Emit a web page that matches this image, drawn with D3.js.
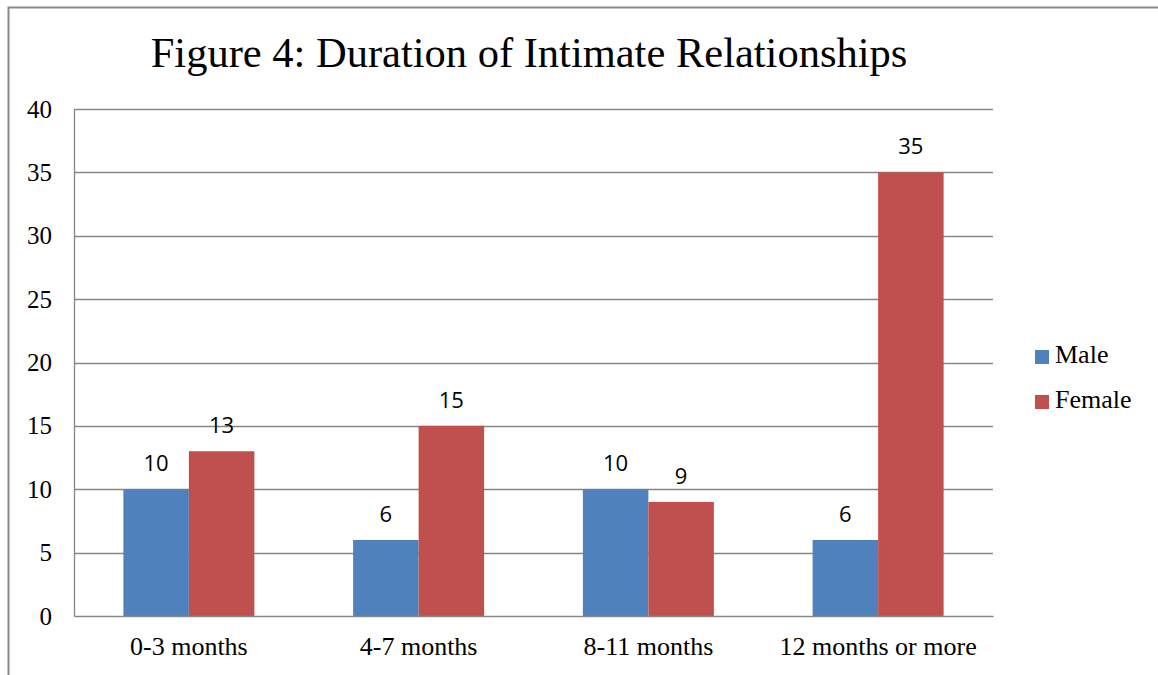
<!DOCTYPE html>
<html>
<head>
<meta charset="utf-8">
<script src="https://cdn.jsdelivr.net/npm/d3@7"></script>
<style>
  body { margin: 0; background: #fff; }
  svg { display: block; }
</style>
</head>
<body>
<div id="bar-chart"></div>
<script>
// Chart data
var categories = ["0-3 months", "4-7 months", "8-11 months", "12 months or more"];
var seriesNames = ["Male", "Female"];
var maleValues = [10, 6, 10, 6];
var femaleValues = [13, 15, 9, 35];
var yTicks = [0, 5, 10, 15, 20, 25, 30, 35, 40];
var colors = ["#4F81BD", "#C0504D"];

var W = 1158, H = 675;
var serif = "'Liberation Serif', 'Times New Roman', serif";
var svg = d3.select("#bar-chart").append("svg")
    .attr("width", W)
    .attr("height", H);

// Outer chart frame (right and bottom edges run off the picture)
svg.append("rect")
    .attr("x", 8.5).attr("y", 7.5)
    .attr("width", W + 20).attr("height", H + 20)
    .attr("fill", "none")
    .attr("stroke", "#888")
    .attr("stroke-width", 2);

// Title
svg.append("text")
    .attr("x", 529).attr("y", 67)
    .attr("text-anchor", "middle")
    .style("font-family", serif)
    .style("font-size", "42.5px")
    .text("Figure 4: Duration of Intimate Relationships");

var margin = {left: 74, right: 165, top: 109, bottom: 59};
var width = W - margin.left - margin.right;
var height = H - margin.top - margin.bottom;

var chart = svg.append("g")
    .attr("transform", "translate(" + margin.left + "," + margin.top + ")");

var x0 = d3.scaleBand()
    .domain(categories)
    .range([0, width])
    .paddingInner(0)
    .paddingOuter(0);

var y = d3.scaleLinear()
    .domain([0, 40])
    .range([height, 0]);

var barW = 65.5;
var x1 = d3.scaleBand()
    .domain(seriesNames)
    .range([x0.bandwidth() / 2 - barW, x0.bandwidth() / 2 + barW]);

// Gridlines
chart.append("g")
    .selectAll("line")
    .data(yTicks.filter(function(d) { return d > 0; }))
    .enter().append("line")
    .attr("x1", 0).attr("x2", width)
    .attr("y1", function(d) { return Math.round(y(d)) + 0.5; })
    .attr("y2", function(d) { return Math.round(y(d)) + 0.5; })
    .attr("stroke", "#868686")
    .attr("stroke-width", 1.3);

var rows = categories.map(function(c, i) {
    return {cat: c, values: [
        {name: "Male", value: maleValues[i]},
        {name: "Female", value: femaleValues[i]}
    ]};
});

var groups = chart.append("g").selectAll("g")
    .data(rows)
    .enter().append("g")
    .attr("transform", function(d) { return "translate(" + x0(d.cat) + ",0)"; });

groups.selectAll("rect")
    .data(function(d) { return d.values; })
    .enter().append("rect")
    .attr("x", function(d) { return x1(d.name); })
    .attr("width", x1.bandwidth())
    .attr("y", function(d) { return y(d.value); })
    .attr("height", function(d) { return height - y(d.value); })
    .attr("fill", function(d, i) { return colors[i]; });

// Value labels
groups.selectAll("text.val")
    .data(function(d) { return d.values; })
    .enter().append("text")
    .classed("val", true)
    .attr("x", function(d) { return x1(d.name) + x1.bandwidth() / 2; })
    .attr("y", function(d) { return y(d.value) - 18; })
    .attr("text-anchor", "middle")
    .style("font-family", "'Open Sans', 'Liberation Sans', sans-serif")
    .style("font-size", "22px")
    .attr("fill", "#000")
    .text(function(d) { return d.value; });

// Y axis
var yAxis = d3.axisLeft(y).tickValues(yTicks).tickSize(0).tickPadding(22);
var yg = chart.append("g").call(yAxis);
yg.select(".domain").attr("stroke", "#868686").attr("stroke-width", 1.3);
yg.selectAll("text")
    .style("font-family", serif)
    .style("font-size", "25px")
    .attr("fill", "#000");

// X axis
var xAxis = d3.axisBottom(x0).tickSize(0).tickSizeOuter(0).tickPadding(21);
var xg = chart.append("g")
    .attr("transform", "translate(0," + height + ")")
    .call(xAxis);
xg.select(".domain").attr("stroke", "#868686").attr("stroke-width", 1.5);
xg.selectAll("text")
    .style("font-family", serif)
    .style("font-size", "26px")
    .attr("fill", "#000");

// Legend
var legend = svg.append("g")
    .attr("transform", "translate(1035,350)");
var items = legend.selectAll("g")
    .data(seriesNames)
    .enter().append("g")
    .attr("transform", function(d, i) { return "translate(0," + (i * 45) + ")"; });
items.append("rect")
    .attr("width", 14).attr("height", 14)
    .attr("fill", function(d, i) { return colors[i]; });
items.append("text")
    .attr("x", 20).attr("y", 7)
    .attr("dominant-baseline", "middle")
    .style("font-family", serif)
    .style("font-size", "26px")
    .text(function(d) { return d; });
</script>
</body>
</html>
